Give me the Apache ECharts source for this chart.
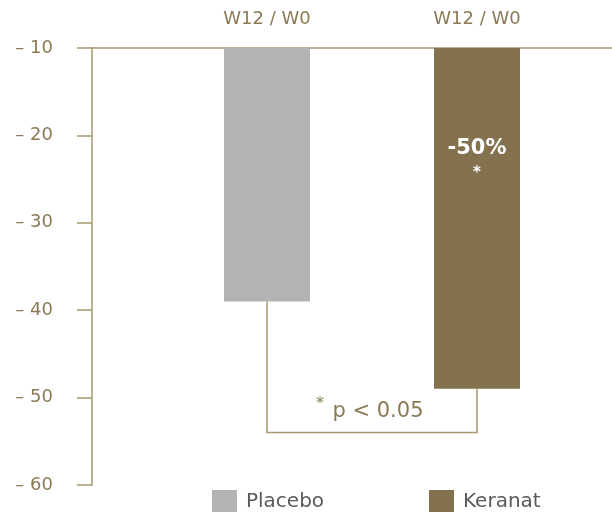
<!DOCTYPE html>
<html>
<head>
<meta charset="utf-8">
<script src="https://cdn.jsdelivr.net/npm/echarts@6/dist/echarts.min.js"></script>
<style>html,body{margin:0;padding:0;background:#fff}#c{width:612px;height:512px}</style>
</head>
<body>
<div id="c"></div>
<script>
// ---- data ----
const categories = ['', '', 'W12 / W0', '', '', 'W12 / W0', '', ''];
const seriesNames = ['Placebo', 'Keranat'];
const placeboIndex = 2;
const keranatIndex = 5;
const placeboValue = -39;
const keranatValue = -49;
const bracketLevel = -54;
const pValueText = 'p < 0.05';
const keranatChangeText = '-50%';
const keranatChangeValue = -21.5;
const keranatStarValue = -24.3;
const pTextValue = -51.6;
const yTicks = [-10, -20, -30, -40, -50, -60];
const yTickLabels = ['– 10', '– 20', '– 30', '– 40', '– 50', '– 60'];

const FONT = 'DejaVu Sans';
const BROWN = '#8b7a55';
const LINE = '#a8966e';
const GREY = '#b3b3b3';
const DARK = '#84724f';

function byIndex(idx, v) {
  return categories.map((_, i) => (i === idx ? v : null));
}

const legendBase = {
  top: 490, padding: 0,
  icon: 'rect', itemWidth: 25, itemHeight: 24,
  textStyle: { color: '#5a5a5a', fontSize: 20, fontFamily: FONT, padding: [0, 0, 0, 4] }
};

const chart = echarts.init(document.getElementById('c'), null, { renderer: 'canvas' });
chart.setOption({
  animation: false,
  backgroundColor: '#fff',
  textStyle: { fontFamily: FONT },
  grid: { left: 92, right: -40, top: 48, bottom: 27, containLabel: false, outerBoundsMode: 'none' },
  legend: [
    Object.assign({}, legendBase, { left: 212, data: [seriesNames[0]] }),
    Object.assign({}, legendBase, { left: 429, data: [seriesNames[1]] })
  ],
  xAxis: {
    type: 'category', position: 'top', data: categories,
    axisLine: { show: true, lineStyle: { color: LINE, width: 1.5 } },
    axisTick: { show: false },
    axisLabel: { interval: 0, color: BROWN, fontSize: 18, margin: 20, fontFamily: FONT }
  },
  yAxis: {
    type: 'value', min: -60, max: -10, interval: 10,
    axisLine: { show: true, lineStyle: { color: LINE, width: 1.5 } },
    axisTick: { show: true, length: 15, lineStyle: { color: LINE, width: 1.5 } },
    splitLine: { show: false },
    axisLabel: {
      color: BROWN, fontSize: 18, margin: 39, fontFamily: FONT, padding: [4, 0, 0, 0],
      formatter: v => { const k = yTicks.indexOf(v); return k >= 0 ? yTickLabels[k] : ''; }
    }
  },
  series: [
    { name: seriesNames[0], type: 'bar', barWidth: 86, barGap: '-100%', clip: true,
      itemStyle: { color: GREY }, data: byIndex(placeboIndex, placeboValue) },
    { name: seriesNames[1], type: 'bar', barWidth: 86, barGap: '-100%', clip: true,
      itemStyle: { color: DARK }, data: byIndex(keranatIndex, keranatValue) },
    { type: 'custom', clip: false, silent: true, z: 10, data: [[placeboIndex, keranatIndex]],
      renderItem: function (params, api) {
        const a = api.coord([placeboIndex, placeboValue]);
        const b = api.coord([placeboIndex, bracketLevel]);
        const c = api.coord([keranatIndex, bracketLevel]);
        const d = api.coord([keranatIndex, keranatValue]);
        const ty = api.coord([placeboIndex, pTextValue])[1];
        const tx = (a[0] + c[0]) / 2;
        const k1 = api.coord([keranatIndex, keranatChangeValue]);
        const k2 = api.coord([keranatIndex, keranatStarValue]);
        return { type: 'group', children: [
          { type: 'polyline', shape: { points: [a, b, c, d] },
            style: { stroke: LINE, lineWidth: 1.5, fill: null } },
          { type: 'text', x: tx + 6, y: ty, z2: 10, style: {
              text: pValueText, align: 'center', verticalAlign: 'middle',
              fill: BROWN, fontSize: 21, fontFamily: FONT } },
          { type: 'text', x: tx - 48, y: ty - 8, z2: 10, style: {
              text: '*', align: 'right', verticalAlign: 'middle',
              fill: BROWN, fontSize: 16, fontFamily: FONT } },
          { type: 'text', x: k1[0], y: k1[1], z2: 10, style: {
              text: keranatChangeText, align: 'center', verticalAlign: 'middle',
              fill: '#ffffff', fontSize: 21, fontWeight: 'bold', fontFamily: FONT } },
          { type: 'text', x: k2[0], y: k2[1], z2: 10, style: {
              text: '*', align: 'center', verticalAlign: 'middle',
              fill: '#ffffff', fontSize: 15, fontWeight: 'bold', fontFamily: FONT } }
        ] };
      } }
  ]
});
</script>
</body>
</html>
